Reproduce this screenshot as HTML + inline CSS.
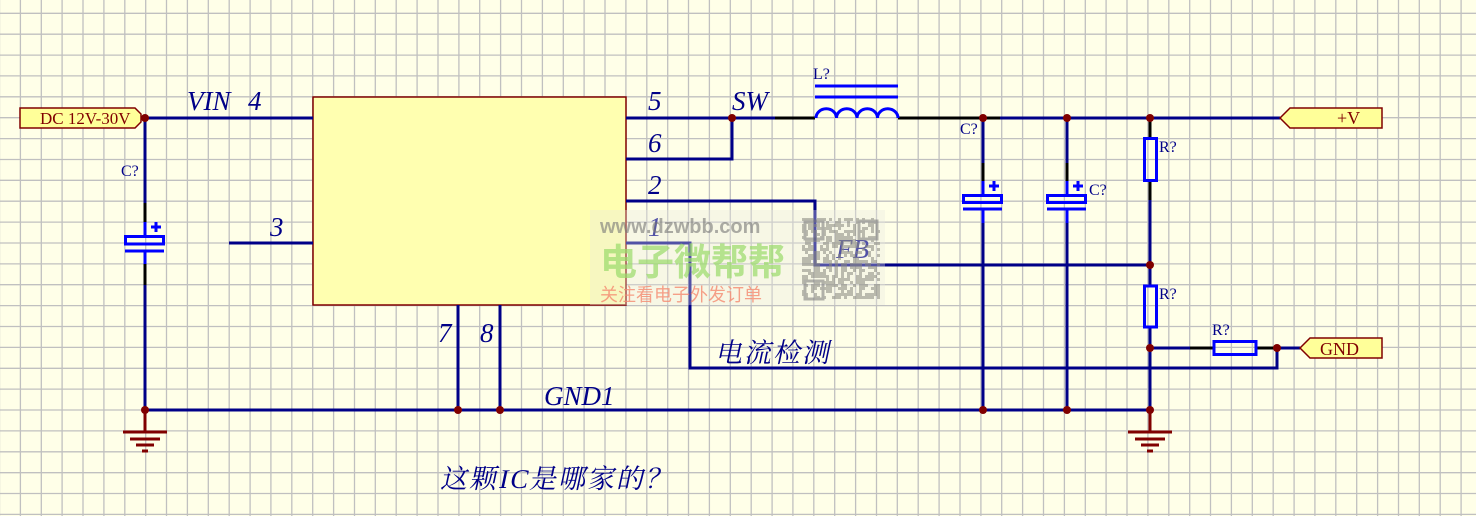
<!DOCTYPE html>
<html><head><meta charset="utf-8"><style>
html,body{margin:0;padding:0;background:#FFFFE8;}
svg{display:block}
.w{stroke:#000088;stroke-width:3;fill:none}
.k{stroke:#000000;stroke-width:3;fill:none}
.c{stroke:#0000FF;stroke-width:3;fill:none}
.r{stroke:#800000;stroke-width:3;fill:none}
.t{font-family:"Liberation Serif","Noto Serif CJK SC",serif;font-style:italic;fill:#000088}
.s{font-family:"Liberation Serif",serif;fill:#000088;font-size:16px}
</style></head><body>
<svg id="sv" width="1476" height="516" xmlns="http://www.w3.org/2000/svg">
<rect width="1476" height="516" fill="#FFFFE8"/>
<g id="grid" stroke="#C0C0C0" stroke-width="1.3"></g>

<rect x="313" y="97" width="313" height="208" fill="#FFFFB0" stroke="#800000" stroke-width="1.5"/>

<path class="w" d="M145 118H313 M145 118V203 M145 251V410 H1150 M229 243H313"/>
<path class="w" d="M626 118H775 M626 159H732V118 M626 201H815V265H1150 M626 243H690V368H1277V348"/>
<path class="k" d="M775 118H815 M898 118H1000 M145 203V222"/>
<path class="w" d="M1000 118H1280 M458 305V410 M500 305V410"/>
<path class="w" d="M983 118V163 M983 223V410 M1067 118V163 M1067 223V410 M1150 118V138 M1150 181V265 M1150 286V265 M1150 327V410 M1150 348H1190 M1256 348H1300"/>
<path class="k" d="M983 163V181 M983 209V223 M1067 163V181 M1067 209V223 M1150 181V200 M1150 138V118 M1190 348H1214 M1256 348H1277"/>

<path class="c" d="M145 222V236 M145 251V264 M125 251H164 M151 227H161 M156 222V232"/>
<rect x="125.5" y="236.5" width="38" height="7.5" class="c"/>
<path class="k" d="M145 264V285"/>
<path class="c" d="M983 181V195 M983 209V223 M963 209H1002 M989 186H999 M994 181V191"/>
<rect x="963.5" y="195.5" width="38" height="7" class="c"/>
<path class="c" d="M1067 181V195 M1067 209V223 M1047 209H1086 M1073 186H1083 M1078 181V191"/>
<rect x="1047.5" y="195.5" width="38" height="7" class="c"/>
<rect x="1144.5" y="138.5" width="12" height="42" class="c" fill="none"/>
<rect x="1144.5" y="286" width="12" height="41" class="c" fill="none"/>
<rect x="1214" y="341.5" width="42" height="13" class="c" fill="none"/>
<path class="c" d="M816 118 A10 9 0 0 1 836.5 118 A10 9 0 0 1 857 118 A10 9 0 0 1 877.5 118 A10 9 0 0 1 898 118 M815 86H898 M815 97H898"/>

<path class="r" d="M145 410V432 M123 432H167 M130 439H160 M136 445H154 M142 451H148"/>
<path class="r" d="M1150 410V432 M1128 432H1172 M1135 439H1165 M1141 445H1159 M1147 451H1153"/>

<g fill="#800000">
<circle cx="145" cy="118" r="4"/><circle cx="732" cy="118" r="4"/>
<circle cx="983" cy="118" r="4"/><circle cx="1067" cy="118" r="4"/><circle cx="1150" cy="118" r="4"/>
<circle cx="1150" cy="265" r="4"/><circle cx="1150" cy="348" r="4"/><circle cx="1277" cy="348" r="4"/>
<circle cx="145" cy="410" r="4"/><circle cx="458" cy="410" r="4"/><circle cx="500" cy="410" r="4"/>
<circle cx="983" cy="410" r="4"/><circle cx="1067" cy="410" r="4"/><circle cx="1150" cy="410" r="4"/>
</g>

<path d="M20 108H135L141 114V122L135 128H20Z" fill="#FFFF99" stroke="#800000" stroke-width="1.5"/>
<text x="40" y="124" font-family="Liberation Serif,serif" font-size="17" fill="#800000">DC 12V-30V</text>
<path d="M1290 108H1382V128H1290L1280 118Z" fill="#FFFF99" stroke="#800000" stroke-width="1.5"/>
<text x="1337" y="124" font-family="Liberation Serif,serif" font-size="18" fill="#800000">+V</text>
<path d="M1310 338H1382V358H1310L1300 348Z" fill="#FFFF99" stroke="#800000" stroke-width="1.5"/>
<text x="1320" y="355" font-family="Liberation Serif,serif" font-size="18" fill="#800000">GND</text>

<text class="t" x="187" y="110" font-size="27">VIN</text>
<text class="t" x="248" y="110" font-size="27">4</text>
<text class="t" x="270" y="236" font-size="27">3</text>
<text class="t" x="648" y="110" font-size="27">5</text>
<text class="t" x="648" y="152" font-size="27">6</text>
<text class="t" x="648" y="194" font-size="27">2</text>
<text class="t" x="648" y="236" font-size="27">1</text>
<text class="t" x="732" y="110" font-size="27">SW</text>
<text class="t" x="836" y="258" font-size="27">FB</text>
<text class="t" x="438" y="342" font-size="27">7</text>
<text class="t" x="480" y="342" font-size="27">8</text>
<text class="t" x="544" y="405" font-size="27">GND1</text>
<g transform="translate(715,362) skewX(-12)"><text class="t" x="0" y="0" font-size="27" style="font-style:normal;letter-spacing:2px">电流检测</text></g>
<g transform="translate(440,488) skewX(-12)"><text class="t" x="0" y="0" font-size="27" style="font-style:normal;letter-spacing:2px">这颗IC是哪家的？</text></g>
<text class="s" x="121" y="176">C?</text>
<text class="s" x="813" y="79">L?</text>
<text class="s" x="960" y="134">C?</text>
<text class="s" x="1089" y="195">C?</text>
<text class="s" x="1159" y="152">R?</text>
<text class="s" x="1159" y="299">R?</text>
<text class="s" x="1212" y="335">R?</text>

<rect x="590" y="210" width="295" height="95" fill="#E8E8E0" opacity="0.35"/>
<text x="600" y="233" font-family="Liberation Sans,sans-serif" font-weight="bold" font-size="20" fill="#777" opacity="0.6">www.dzwbb.com</text>
<text x="600" y="275" font-family="Liberation Sans,'Noto Sans CJK SC',sans-serif" font-weight="bold" font-size="37" fill="#9ADB6A" opacity="0.7">电子微帮帮</text>
<text x="600" y="301" font-family="Liberation Sans,'Noto Sans CJK SC',sans-serif" font-size="18" fill="#F58A70" opacity="0.8">关注看电子外发订单</text>
<g id="qr" fill="#8A8A80" opacity="0.55"></g>
</svg>
<script>
var g=document.getElementById('grid'),s='';
for(var k=0;k<72;k++){var x=(20.88*k-0.5).toFixed(1);s+='<line x1="'+x+'" y1="0" x2="'+x+'" y2="516"/>';}
for(var k=0;k<25;k++){var y=(13.3+20.88*k).toFixed(1);s+='<line x1="0" y1="'+y+'" x2="1476" y2="'+y+'"/>';}
g.innerHTML=s;
var q='',seed=7;function rnd(){seed=(seed*9301+49297)%233280;return seed/233280;}
for(var i=0;i<26;i++)for(var j=0;j<27;j++){if(rnd()<0.5)q+='<rect x="'+(802+i*3)+'" y="'+(218+j*3)+'" width="3" height="3"/>';}
q+='<rect x="805" y="221" width="18" height="18" fill="none" stroke="#777" stroke-width="3"/><rect x="859" y="221" width="18" height="18" fill="none" stroke="#777" stroke-width="3"/><rect x="805" y="281" width="18" height="18" fill="none" stroke="#777" stroke-width="3"/>';
document.getElementById('qr').innerHTML=q;
</script>
</body></html>
